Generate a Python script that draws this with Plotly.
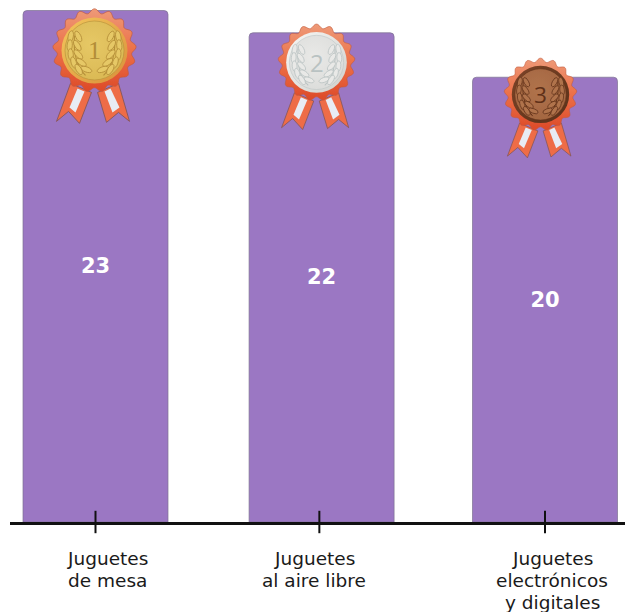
import base64
import numpy as np
import plotly.graph_objects as go

# Toy categories ranked by number of mentions
categories = [["Juguetes", "de mesa"], ["Juguetes", "al aire libre"], ["Juguetes", "electrónicos", "y digitales"]]
values = [23, 22, 20]
bar_positions = [0, 1.006, 2]
tick_positions = [0, 0.996, 2]
label_shift = [12, -5, 7]

medal_digits = ["1", "2", "3"]
medal_fonts = ["Liberation Serif", "Open Sans", "Open Sans"]
medal_centers = [(94.5, 50.5), (316.5, 62.5), (540.5, 94.5)]
medal_scales = [1.0, 0.92, 0.87]

W, H = 625, 612
LEFT, BOTTOM = 10, 89.5
PLOT_W, PLOT_H = W - LEFT, H - BOTTOM
PX_PER_UNIT = 22.26
PX_PER_CAT = 224.75
LINE_STEP = 22


def rosette(n=17, r0=39.5, amp=2.2):
    pts = []
    for a in np.linspace(0, 2 * np.pi, 340, endpoint=False):
        r = r0 + amp * np.cos(n * a)
        pts.append(f"{r * np.sin(a):.2f},{-r * np.cos(a):.2f}")
    return " ".join(pts)


def wheat(side, color, shade):
    """One laurel branch on the coin; side is -1 for left and +1 for right."""
    out = [f'<path d="M{side * 9} 25 Q{side * 22} 12 {side * 20} -15" fill="none" stroke="{shade}" stroke-width="1.1"/>']
    for y, x, rot in [(-14, 20, 8), (-5, 21, 14), (4, 20, 24), (12, 17, 36), (19, 12, 50)]:
        for off in (-3.8, 3.8):
            out.append(
                f'<ellipse cx="{side * (x + off)}" cy="{y}" rx="2.6" ry="5.8" fill="{color}" '
                f'stroke="{shade}" stroke-width="0.8" transform="rotate({side * (rot - off * 5)} {side * (x + off)} {y})"/>'
            )
    return "".join(out)


def medal_svg(light, base, dark, rim_light, rim_dark):
    ribbon_l = "-24,33 -3,42 -15,73 -26,61 -38,71"
    ribbon_r = "3,42 24,33 35,71 24,62 12,72"
    stripe_l = "-17,38 -10,41 -19,62 -25,57"
    stripe_r = "10,41 16,38 25,57 18,62"
    return f'''<svg xmlns="http://www.w3.org/2000/svg" viewBox="-50 -50 100 130" width="300" height="390">
<defs>
<linearGradient id="ro" x1="0" y1="0" x2="0" y2="1"><stop offset="0" stop-color="#ee9a78"/><stop offset="0.5" stop-color="#ec7048"/><stop offset="1" stop-color="#dd4a28"/></linearGradient>
<linearGradient id="ri" x1="0" y1="0" x2="1" y2="1"><stop offset="0" stop-color="{rim_light}"/><stop offset="1" stop-color="{rim_dark}"/></linearGradient>
<radialGradient id="co" cx="0.45" cy="0.4" r="0.7"><stop offset="0" stop-color="{light}"/><stop offset="1" stop-color="{base}"/></radialGradient>
<filter id="soft"><feGaussianBlur stdDeviation="0.45"/></filter>
</defs>
<g filter="url(#soft)">
<polygon points="{ribbon_l}" fill="#ee6c46" stroke="#85565a" stroke-width="0.9"/>
<polygon points="{ribbon_r}" fill="#ee6c46" stroke="#85565a" stroke-width="0.9"/>
<polygon points="{stripe_l}" fill="#e8ecf4"/>
<polygon points="{stripe_r}" fill="#e8ecf4"/>
<polygon points="{rosette()}" fill="url(#ro)" stroke="#c25a3c" stroke-width="0.7"/>
<circle r="33" fill="url(#ri)"/>
<circle r="29.5" fill="url(#co)" stroke="{dark}" stroke-width="0.6"/>
{wheat(-1, light, dark)}{wheat(1, light, dark)}
</g></svg>'''


palettes = [
    ("#e6c866", "#d9b752", "#b48e38", "#f3c75c", "#d98f3a"),
    ("#e9e9e7", "#dadbd9", "#b9c2c2", "#f7f7f5", "#cfd0cc"),
    ("#b0734c", "#a2643f", "#5f3018", "#7d4428", "#5a3018"),
]

images, annotations = [], []
for center, scale, pal in zip(medal_centers, medal_scales, palettes):
    svg = medal_svg(*pal)
    uri = "data:image/svg+xml;base64," + base64.b64encode(svg.encode()).decode()
    w, h = 100 * scale, 130 * scale
    images.append(dict(
        source=uri, xref="paper", yref="paper", xanchor="left", yanchor="top",
        x=(center[0] - 50 * scale - LEFT) / PLOT_W,
        y=(PLOT_H - (center[1] - 50 * scale)) / PLOT_H,
        sizex=w / PLOT_W, sizey=h / PLOT_H, sizing="stretch", layer="above",
    ))

for digit, font, center, scale, pal in zip(medal_digits, medal_fonts, medal_centers, medal_scales, palettes):
    annotations.append(dict(
        text=digit, xref="paper", yref="paper", showarrow=False,
        x=(center[0] - LEFT) / PLOT_W, y=(PLOT_H - center[1]) / PLOT_H,
        xanchor="center", yanchor="middle",
        font=dict(family=font, size=26 * scale, color=pal[2]),
    ))

# Category names, one annotation per line to hold a tight line step
for pos, lines, shift in zip(tick_positions, categories, label_shift):
    for i, line in enumerate(lines):
        annotations.append(dict(
            text=line, x=pos, y=0, xref="x", yref="y", yanchor="top", xanchor="center",
            xshift=shift, yshift=-24 - i * LINE_STEP, showarrow=False, align="center",
            font=dict(family="DejaVu Sans", size=18.5, color="#1a1a1a"),
        ))

fig = go.Figure()
fig.add_bar(
    x=bar_positions, y=values, width=145 / PX_PER_CAT,
    text=values, textposition="inside", insidetextanchor="middle", textangle=0,
    textfont=dict(family="DejaVu Sans", size=21, color="white", weight="bold"),
    marker=dict(color="#9b77c3", cornerradius=4, line=dict(color="rgba(125,115,145,0.7)", width=1)),
    hoverinfo="skip",
)
# Tick marks crossing the baseline
fig.add_scatter(
    x=tick_positions, y=[0, 0, 0], mode="markers", cliponaxis=False, hoverinfo="skip",
    marker=dict(symbol="line-ns", size=16, line=dict(color="#111111", width=2)),
)

fig.update_layout(
    width=W, height=H, margin=dict(l=LEFT, r=0, t=0, b=BOTTOM, pad=0),
    paper_bgcolor="white", plot_bgcolor="white", showlegend=False,
    images=images, annotations=annotations,
    xaxis=dict(
        range=[-85.5 / PX_PER_CAT, 2 + 80 / PX_PER_CAT], showgrid=False, zeroline=False,
        showticklabels=False, ticks="", showline=True, linecolor="#111111", linewidth=2.5,
    ),
    yaxis=dict(range=[0, PLOT_H / PX_PER_UNIT], visible=False, showgrid=False, zeroline=False),
)

fig.write_html("out.html", config=dict(displayModeBar=False))
